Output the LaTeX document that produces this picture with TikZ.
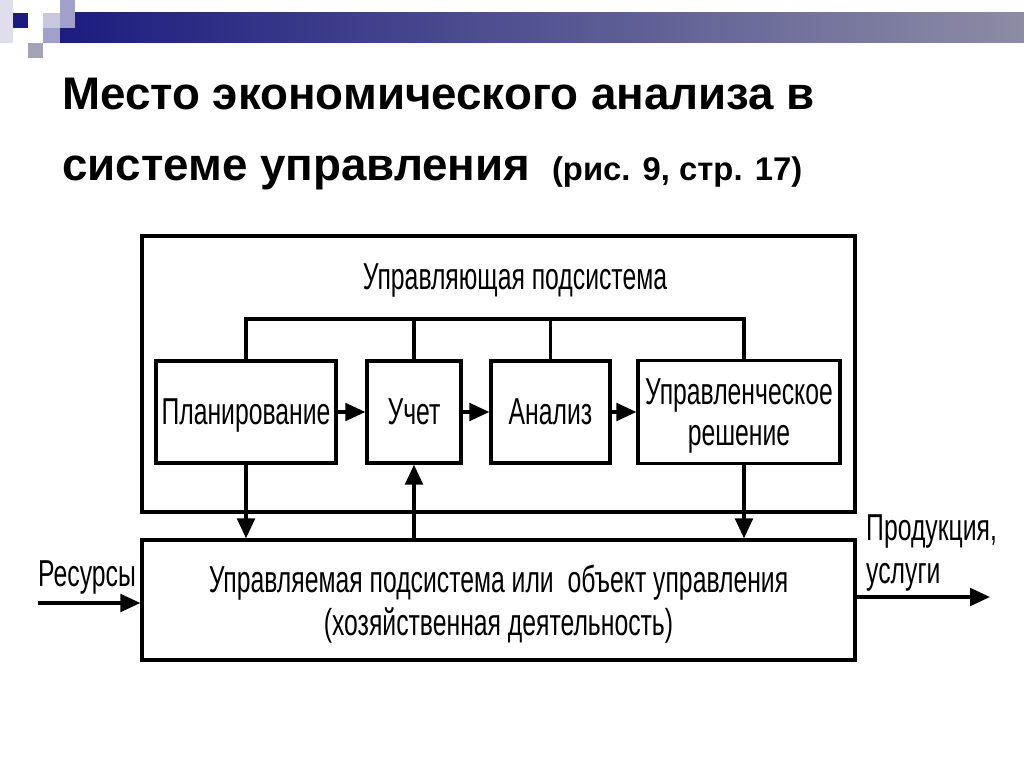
\documentclass[tikz,border=0pt]{standalone}
\usepackage{fontspec}
\setmainfont{Liberation Sans}
\newfontfamily\narrowfont[FakeStretch=0.66]{Liberation Sans}
\usetikzlibrary{arrows.meta}
\definecolor{navy}{RGB}{28,28,128}
\definecolor{greyblue}{RGB}{140,140,165}
\definecolor{lavender}{RGB}{200,200,225}
\definecolor{midlav}{RGB}{160,160,200}
\tikzset{
	blk/.style={draw, line width=2.8pt, minimum width=#1*0.03cm, inner sep=0pt},
	arr/.style={line width=2.8pt, -{Triangle[length=17pt, width=15pt]}},
	bus/.style={line width=2.8pt},
	lbl/.style={font=\narrowfont\fontsize{32}{36}\selectfont, align=center, text depth=0pt},
}
\begin{document}
\begin{tikzpicture}[x=0.03cm, y=-0.03cm]
	\useasboundingbox[fill=white] (0,0) rectangle (1024,767);
	% header strip
	\fill[lavender!60] (0,0) rectangle (13,43);
	\shade[left color=navy, right color=greyblue] (60,13) rectangle (1024,43);
	\fill[navy] (13,13) rectangle (28,28);
	\fill[lavender] (43,13) rectangle (60,28);
	\fill[midlav] (60,0) rectangle (75,28);
	\fill[midlav] (43,28) rectangle (60,43);
	\fill[greyblue!80] (28,43) rectangle (43,58);
	% title
	\node[anchor=base west, inner sep=0pt, font=\bfseries\fontsize{39}{46}\selectfont] (title1) at (62,110) {Место экономического анализа в};
	\node[anchor=base west, inner sep=0pt, font=\bfseries\fontsize{39}{46}\selectfont] (title2) at (62,181) {системе управления \fontsize{28}{32}\selectfont\ (рис. 9, стр. 17)};
	% managing subsystem
	\node[blk=713, minimum height=276*0.03cm] (upr) at (498.5,374) {};
	\node[lbl] (uprtxt) at (515,277) {Управляющая подсистема};
	\node[blk=180, minimum height=102*0.03cm, lbl] (plan) at (246,412) {Планирование};
	\node[blk=94, minimum height=102*0.03cm, lbl] (uchet) at (414,412) {Учет};
	\node[blk=119, minimum height=102*0.03cm, lbl] (analiz) at (550.5,412) {Анализ};
	\node[blk=202, minimum height=103*0.03cm, lbl, font=\narrowfont\fontsize{32}{35}\selectfont] (resh) at (739,412) {Управленческое\\решение};
	% managed subsystem
	\node[blk=713, minimum height=120*0.03cm, lbl, font=\narrowfont\fontsize{32}{37}\selectfont] (low) at (498.5,600) {Управляемая подсистема или \ объект управления\\(хозяйственная деятельность)};
	% bus
	\coordinate (busL) at (246,319);
	\coordinate (busR) at (744,319);
	\draw[bus] (plan.north) -- (busL) -- (busR) -- (744,0 |- resh.north);
	\draw[bus] (uchet.north) -- (uchet.north |- busL);
	\draw[bus] (analiz.north) -- (analiz.north |- busL);
	% flows
	\draw[arr] (plan) -- (uchet);
	\draw[arr] (uchet) -- (analiz);
	\draw[arr] (analiz) -- (resh.west |- analiz);
	\draw[arr] (plan.south) -- (plan.south |- low.north);
	\draw[arr] (uchet.south |- low.north) -- (uchet.south);
	\draw[arr] (744,0 |- resh.south) -- (744,0 |- low.north);
	% inputs and outputs
	\coordinate (resIn) at (38,603);
	\coordinate (prodOut) at (990,597);
	\node[lbl, anchor=base west, inner sep=0pt] (res) at (38,586) {Ресурсы};
	\node[lbl, anchor=west, align=left, inner sep=0pt, text depth=] (prod) at (866,553) {Продукция,\\услуги};
	\draw[arr] (resIn) -- (resIn -| low.west);
	\draw[arr] (prodOut -| low.east) -- (prodOut);
\end{tikzpicture}
\end{document}
